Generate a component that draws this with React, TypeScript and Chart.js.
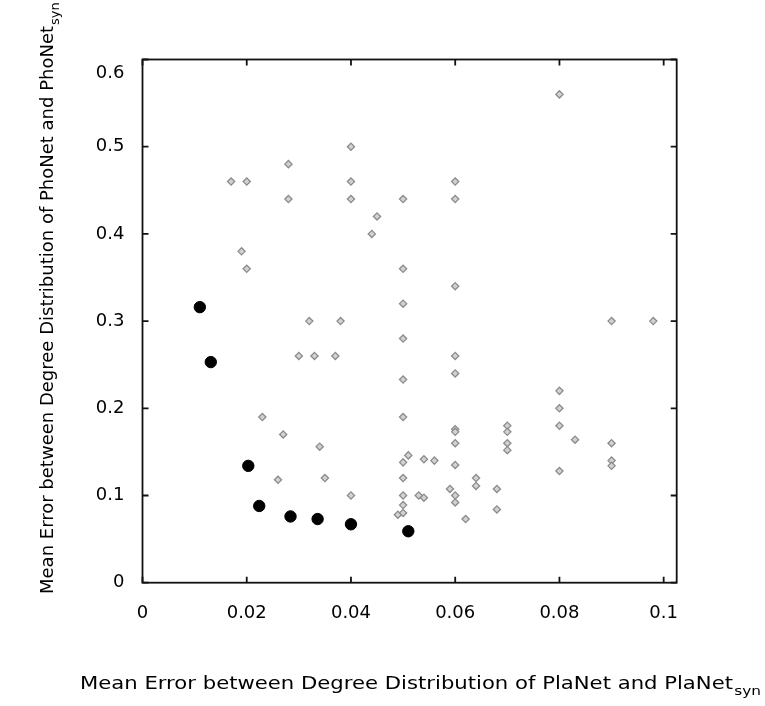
import React, { useEffect, useRef } from "react";
import { Chart, registerables } from "chart.js";

Chart.register(...registerables);

const xTickValues = [0, 0.02, 0.04, 0.06, 0.08, 0.1];
const xTickLabels = ["0", "0.02", "0.04", "0.06", "0.08", "0.1"];
const yTickValues = [0, 0.1, 0.2, 0.3, 0.4, 0.5, 0.6];
const yTickLabels = ["0", "0.1", "0.2", "0.3", "0.4", "0.5", "0.6"];

const xTitleMain = "Mean Error between Degree Distribution of PlaNet and PlaNet";
const xTitleSub = "syn";
const yTitleMain = "Mean Error between Degree Distribution of PhoNet and PhoNet";
const yTitleSub = "syn";

// black filled circles
const paretoX = [0.011, 0.0131, 0.0203, 0.0224, 0.0284, 0.0336, 0.04, 0.051];
const paretoY = [0.316, 0.253, 0.134, 0.088, 0.076, 0.073, 0.067, 0.059];

// gray diamonds
const otherX = [
  0.017, 0.02, 0.028, 0.028, 0.04, 0.04, 0.04, 0.045, 0.044, 0.019,
  0.02, 0.032, 0.038, 0.08, 0.06, 0.06, 0.05, 0.05, 0.06, 0.05,
  0.09, 0.098, 0.03, 0.033, 0.037, 0.023, 0.027, 0.034, 0.026, 0.035,
  0.04, 0.05, 0.06, 0.06, 0.05, 0.08, 0.08, 0.05, 0.08, 0.06,
  0.06, 0.07, 0.07, 0.06, 0.07, 0.07, 0.083, 0.09, 0.09, 0.09,
  0.051, 0.05, 0.054, 0.056, 0.06, 0.08, 0.05, 0.064, 0.064, 0.059,
  0.068, 0.05, 0.053, 0.054, 0.06, 0.06, 0.05, 0.049, 0.05, 0.068,
  0.062,
];
const otherY = [
  0.46, 0.46, 0.48, 0.44, 0.5, 0.46, 0.44, 0.42, 0.4, 0.38,
  0.36, 0.3, 0.3, 0.56, 0.46, 0.44, 0.44, 0.36, 0.34, 0.32,
  0.3, 0.3, 0.26, 0.26, 0.26, 0.19, 0.17, 0.156, 0.118, 0.12,
  0.1, 0.28, 0.26, 0.24, 0.233, 0.22, 0.2, 0.19, 0.18, 0.176,
  0.173, 0.18, 0.173, 0.16, 0.16, 0.152, 0.164, 0.16, 0.14, 0.134,
  0.146, 0.138, 0.1415, 0.14, 0.135, 0.128, 0.12, 0.12, 0.111, 0.1075,
  0.1075, 0.1, 0.1, 0.0975, 0.1, 0.092, 0.089, 0.078, 0.08, 0.084,
  0.073,
];

const FONT = "'DejaVu Sans', 'Liberation Sans', sans-serif";
const TEXT = "#000";

const framePlugin = {
  id: "frame",
  afterDatasetsDraw(chart: any) {
    const { ctx, chartArea: a, scales } = chart;
    ctx.save();
    ctx.strokeStyle = "#111";
    ctx.lineWidth = 1.8;
    ctx.strokeRect(a.left, a.top, a.right - a.left, a.bottom - a.top);
    const L = 6;
    ctx.beginPath();
    xTickValues.forEach((v) => {
      const px = scales.x.getPixelForValue(v);
      ctx.moveTo(px, a.bottom);
      ctx.lineTo(px, a.bottom - L);
      ctx.moveTo(px, a.top);
      ctx.lineTo(px, a.top + L);
    });
    yTickValues.forEach((v) => {
      const py = scales.y.getPixelForValue(v);
      ctx.moveTo(a.left, py);
      ctx.lineTo(a.left + L, py);
      ctx.moveTo(a.right, py);
      ctx.lineTo(a.right - L, py);
    });
    ctx.stroke();
    ctx.restore();
  },
  afterDraw(chart: any) {
    const { ctx, chartArea: a, scales } = chart;
    ctx.save();
    ctx.fillStyle = TEXT;

    // topmost y label sits a little below its tick in the reference
    const topIdx = yTickValues.length - 1;
    ctx.font = `18px ${FONT}`;
    ctx.textAlign = "right";
    ctx.textBaseline = "middle";
    ctx.fillText(
      yTickLabels[topIdx],
      a.left - 18,
      scales.y.getPixelForValue(yTickValues[topIdx]) + 14
    );

    ctx.textBaseline = "alphabetic";
    ctx.textAlign = "left";

    // x title (horizontally stretched as in the reference)
    ctx.font = `18px ${FONT}`;
    const wx = ctx.measureText(xTitleMain).width;
    const sx = 653 / wx;
    ctx.save();
    ctx.translate(80, 689);
    ctx.scale(sx, 1);
    ctx.fillText(xTitleMain, 0, 0);
    ctx.font = `13px ${FONT}`;
    ctx.fillText(xTitleSub, wx + 1, 6);
    ctx.restore();

    // y title (rotated)
    ctx.font = `18px ${FONT}`;
    const wy = ctx.measureText(yTitleMain).width;
    ctx.save();
    ctx.translate(53, 594);
    ctx.rotate(-Math.PI / 2);
    ctx.fillText(yTitleMain, 0, 0);
    ctx.font = `13px ${FONT}`;
    ctx.fillText(yTitleSub, wy + 1, 6);
    ctx.restore();

    ctx.restore();
  },
};

export default function App() {
  const canvasRef = useRef<HTMLCanvasElement | null>(null);

  useEffect(() => {
    if (!canvasRef.current) return;
    const chart = new Chart(canvasRef.current, {
      type: "scatter",
      data: {
        datasets: [
          {
            label: "pareto",
            data: paretoX.map((x, i) => ({ x, y: paretoY[i] })),
            pointStyle: "circle",
            pointRadius: 5.7,
            pointBackgroundColor: "#000",
            pointBorderColor: "#000",
            pointBorderWidth: 1,
          },
          {
            label: "others",
            data: otherX.map((x, i) => ({ x, y: otherY[i] })),
            pointStyle: "rectRot",
            pointRadius: 3.6,
            pointBackgroundColor: "#d2d2d2",
            pointBorderColor: "#8c8c8c",
            pointBorderWidth: 1.3,
          },
        ],
      },
      options: {
        responsive: false,
        animation: false,
        events: [],
        layout: { padding: { left: 0, top: 59.5, right: 88.3, bottom: 0 } },
        plugins: {
          legend: { display: false },
          tooltip: { enabled: false },
          title: { display: false },
        },
        scales: {
          x: {
            type: "linear",
            min: 0,
            max: 0.1025,
            grid: { display: false, drawTicks: false },
            border: { display: false },
            afterBuildTicks: (scale: any) => {
              scale.ticks = xTickValues.map((v) => ({ value: v }));
            },
            afterFit: (scale: any) => {
              scale.height = 706 - 582.7;
            },
            ticks: {
              autoSkip: false,
              maxRotation: 0,
              minRotation: 0,
              padding: 20,
              color: TEXT,
              font: { family: FONT, size: 18 },
              callback: (_v: any, i: number) => xTickLabels[i],
            },
          },
          y: {
            type: "linear",
            min: 0,
            max: 0.6,
            grid: { display: false, drawTicks: false },
            border: { display: false },
            afterBuildTicks: (scale: any) => {
              scale.ticks = yTickValues.map((v) => ({ value: v }));
            },
            afterFit: (scale: any) => {
              scale.width = 142.5;
            },
            ticks: {
              autoSkip: false,
              padding: 18,
              color: TEXT,
              font: { family: FONT, size: 18 },
              callback: (_v: any, i: number) =>
                i === yTickValues.length - 1 ? "" : yTickLabels[i],
            },
          },
        },
      },
      plugins: [framePlugin],
    });
    return () => chart.destroy();
  }, []);

  return (
    <div
      style={{
        position: "absolute",
        left: 0,
        top: 0,
        width: 765,
        height: 706,
        background: "#fff",
      }}
    >
      <canvas ref={canvasRef} width={765} height={706} style={{ display: "block" }} />
    </div>
  );
}
